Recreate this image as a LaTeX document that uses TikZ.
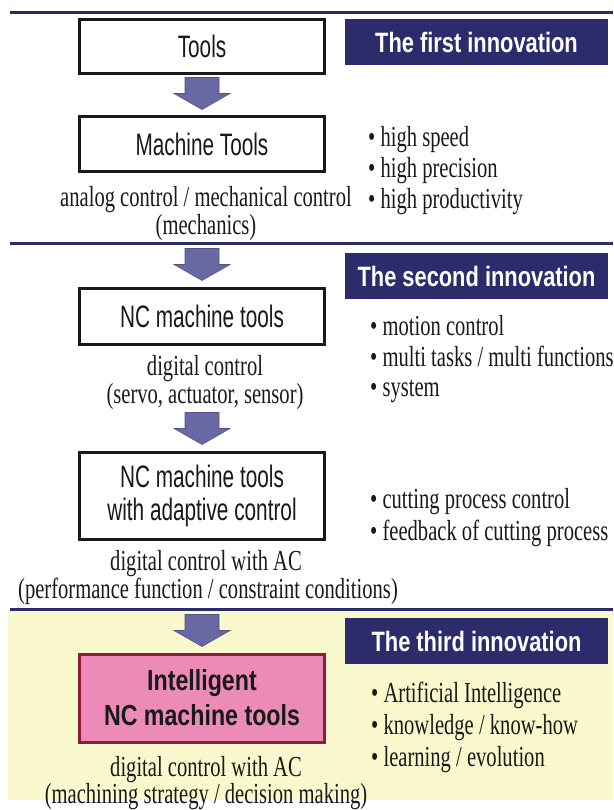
\documentclass[tikz,border=0pt]{standalone}
\usepackage{fontspec}
\setmainfont{Liberation Serif}[FakeStretch=0.71]
\newfontfamily\boxfont{Liberation Sans}[FakeStretch=0.67]
\newfontfamily\banfont{Liberation Sans}[FakeStretch=0.78]
\newfontfamily\intfont{Liberation Sans}[FakeStretch=0.8]
\usetikzlibrary{calc}
\definecolor{navy}{RGB}{44,44,108}
\definecolor{arrowc}{RGB}{104,104,164}
\definecolor{pinkc}{RGB}{236,138,184}
\definecolor{redb}{RGB}{140,30,60}
\definecolor{yel}{RGB}{250,249,205}
\definecolor{ink}{RGB}{25,25,25}
\tikzset{
 box/.style={draw=ink, line width=3pt, minimum width=245pt, fill=white, inner sep=0pt,
   font=\boxfont\fontsize{31}{33}\selectfont, align=center, text=ink},
 banner/.style={fill=navy, minimum width=263pt, minimum height=46pt, inner sep=0pt,
   text=white, font=\banfont\bfseries\fontsize{28}{34}\selectfont},
 sepline/.style={draw=navy, line width=3pt},
 serif/.style={font=\fontsize{29}{30}\selectfont, text=ink, inner sep=0pt},
 bul/.style={serif, anchor=base west},
 capt/.style={serif, anchor=base},
 barrow/.style={fill=arrowc, draw=arrowc!80!black, line width=0.6pt},
}
\newcommand\blockarrow[1]{%
 \draw[barrow] ($(#1.north)+(-17,-38)$) -- ($(#1.north)+(17,-38)$) -- ($(#1.north)+(17,-22)$)
   -- ($(#1.north)+(28,-22)$) -- ($(#1.north)+(0,-6)$) -- ($(#1.north)+(-28,-22)$)
   -- ($(#1.north)+(-17,-22)$) -- cycle;}
\begin{document}
\begin{tikzpicture}[x=1pt,y=-1pt]
\useasboundingbox (0,0) rectangle (613,810);
\fill[yel] (8,610) rectangle (613,800);
\draw[sepline] (10,13) -- (613,13);
\draw[sepline] (10,243) -- (613,243);
\draw[sepline] (10,609) -- (613,609);
% banners
\node[banner] (b1) at (476.5,42.5) {The first innovation};
\node[banner] (b2) at (476.5,276) {The second innovation};
\node[banner] (b3) at (476.5,641) {The third innovation};
% boxes
\node[box, minimum height=54pt] (tools) at (202,46.5) {Tools};
\node[box, minimum height=55pt] (mt) at (202,144.5) {Machine Tools};
\node[box, minimum height=56pt] (nc) at (202,316) {NC machine tools};
\node[box, minimum height=87pt] (ncac) at (202,495.5) {NC machine tools\\with adaptive control};
\node[box, minimum height=88pt, fill=pinkc, draw=redb, font=\intfont\bfseries\fontsize{29}{35}\selectfont] (intel) at (202,698) {Intelligent\\NC machine tools};
% arrows
\blockarrow{mt}
\blockarrow{nc}
\blockarrow{ncac}
\blockarrow{intel}
% captions
\node[capt] (c1a) at (206,207) {analog control / mechanical control};
\node[capt] (c1b) at (206,234) {(mechanics)};
\node[capt] (c2a) at (205,375) {digital control};
\node[capt] (c2b) at (205,403) {(servo, actuator, sensor)};
\node[capt] (c3a) at (206,570) {digital control with AC};
\node[capt] (c3b) at (208,598) {(performance function / constraint conditions)};
\node[capt] (c4a) at (206,776) {digital control with AC};
\node[capt] (c4b) at (206,803) {(machining strategy / decision making)};
% bullets
\node[bul] (p1) at (368,147) {• high speed};
\node[bul] (p2) at (368,178) {• high precision};
\node[bul] (p3) at (368,209) {• high productivity};
\node[bul] (q1) at (370,335) {• motion control};
\node[bul] (q2) at (370,366) {• multi tasks / multi functions};
\node[bul] (q3) at (370,396) {• system};
\node[bul] (r1) at (370,508) {• cutting process control};
\node[bul] (r2) at (370,540) {• feedback of cutting process};
\node[bul] (s1) at (371,702) {• Artificial Intelligence};
\node[bul] (s2) at (371,734) {• knowledge / know-how};
\node[bul] (s3) at (371,766) {• learning / evolution};
\end{tikzpicture}
\end{document}
